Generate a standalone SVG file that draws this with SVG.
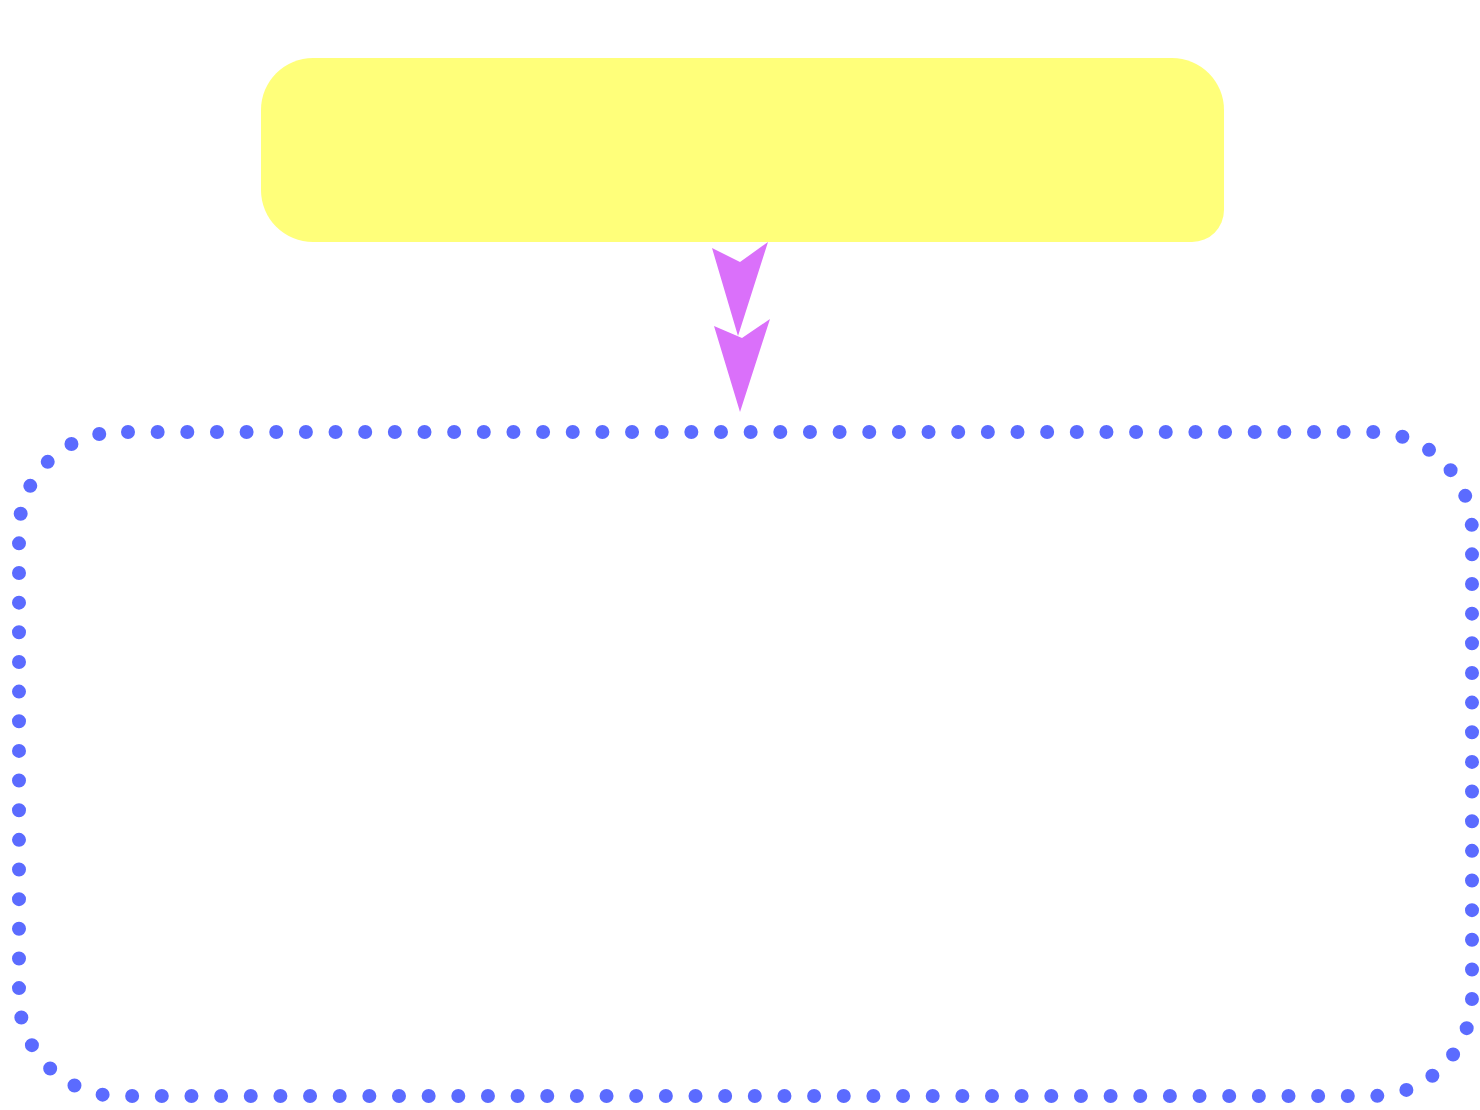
<svg xmlns="http://www.w3.org/2000/svg" width="1480" height="1110" viewBox="0 0 1480 1110">
<style>
.head{fill:#da70fa;stroke:none}
.dotted{fill:none;stroke:#5b6bff;stroke-width:14;stroke-linecap:round;stroke-dasharray:0 29.65;stroke-dashoffset:20.65}
.yellow{fill:#ffff7a}
</style>
<rect width="1480" height="1110" fill="#ffffff"/>
<g id="node-top">
<path class="yellow" d="M313,58 H1172 A52,52 0 0 1 1224,110 V210 A32,32 0 0 1 1192,242 H313 A52,52 0 0 1 261,190 V110 A52,52 0 0 1 313,58 Z"/>
</g>
<g id="node-bottom">
<rect class="dotted" x="19" y="432" width="1453" height="664" rx="100" ry="100"/>
</g>
<g id="connectors">
<polygon class="head" points="712,248 740,262 768,242 738,336"/>
<polygon class="head" points="714,326 742,338 770,319 740,412"/>
</g>
</svg>
